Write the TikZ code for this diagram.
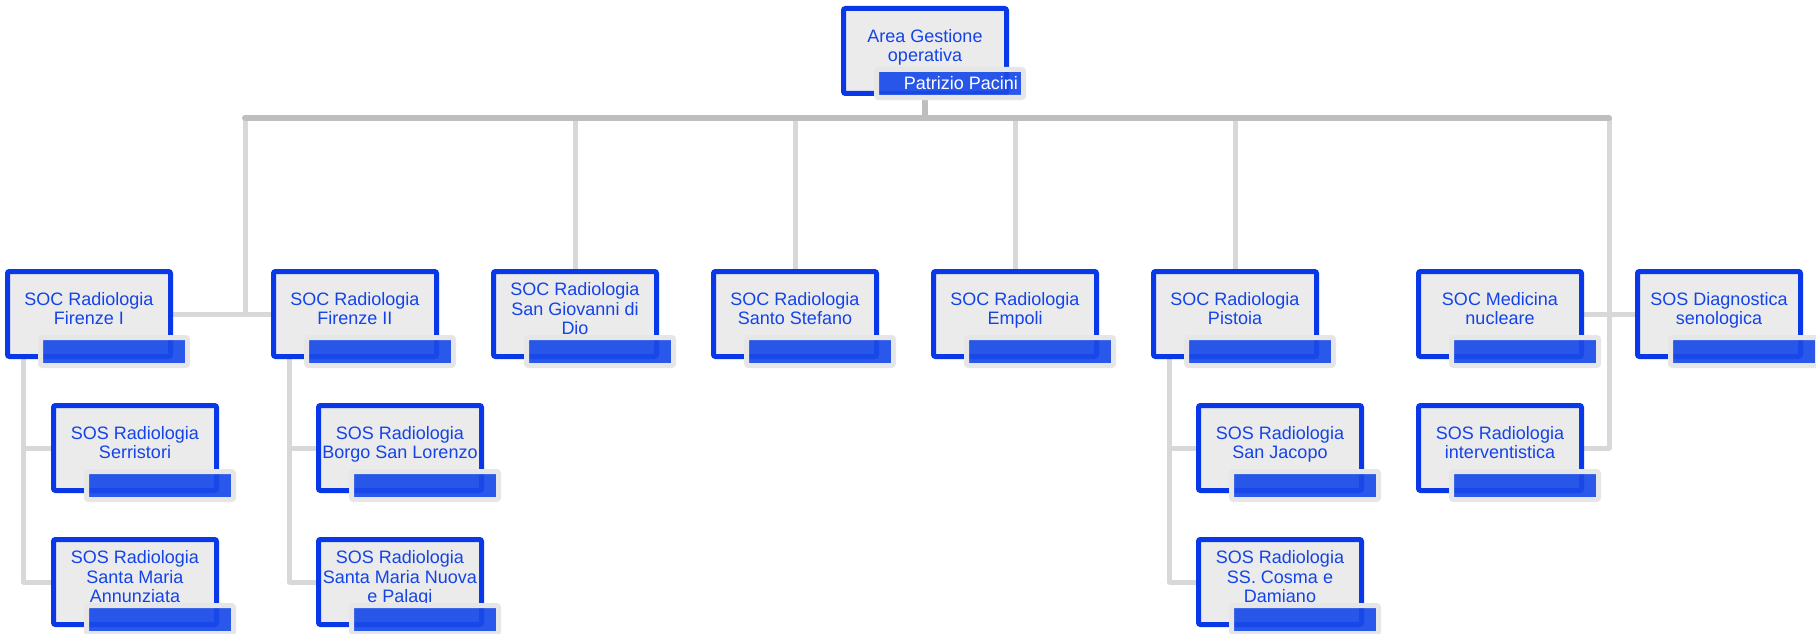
\documentclass[tikz,border=0pt]{standalone}
\usepackage{fontspec}
\setmainfont{Liberation Sans}
\usetikzlibrary{backgrounds}
\definecolor{bordblue}{HTML}{0838E8}
\definecolor{txtblue}{HTML}{1443E8}
\definecolor{barblue}{HTML}{1A4BE8}
\definecolor{boxfill}{HTML}{EBEBEB}
\definecolor{halogray}{HTML}{E6E6E6}
\definecolor{busgray}{HTML}{BEBEBE}
\definecolor{conngray}{HTML}{D8D8D8}
\tikzset{
  orgbox/.style={draw=bordblue, fill=boxfill, line width=5pt, rounded corners=2pt,
    minimum width=163pt, minimum height=85pt, inner sep=0pt, outer sep=0pt},
  orgtext/.style={text=txtblue, font=\fontsize{18}{19.5}\selectfont, align=center, inner sep=0pt, text depth=0pt},
  namebar/.style={fill=barblue, fill opacity=0.93, minimum width=142pt, minimum height=23pt,
    inner sep=0pt, outer sep=0pt, anchor=north east},
  halo/.style={draw=halogray, line width=5pt, rounded corners=2pt},
  busline/.style={draw=busgray, line width=6pt, line join=round, line cap=round},
  connline/.style={draw=conngray, line width=5pt, line join=round},
  nametext/.style={text=white, font=\fontsize{18}{19.5}\selectfont, inner sep=0pt, anchor=east},
}
\newcommand\orgunit[5][0]{%
  \node[orgbox] (#2) at (#3,#4) {};
  \node[orgtext] (#2-t) at ([yshift=-37pt]#2.north) {#5};
  \node[namebar] (#2-bar) at ([xshift=14.5pt,yshift=16.5pt+#1pt]#2.south east) {};
  \draw[halo] ([shift={(-2.5pt,2.5pt)}]#2-bar.north west) rectangle ([shift={(2.5pt,-2.5pt)}]#2-bar.south east);
}
\begin{document}
\begin{tikzpicture}[x=1pt,y=-1pt]
\useasboundingbox (0,0) rectangle (1816,634);
\orgunit[5]{top}{925}{51}{Area Gestione\\operativa}
\node[nametext] (top-name) at ([xshift=-3pt]top-bar.east) {Patrizio Pacini};
\orgunit{f1}{89}{314}{SOC Radiologia\\Firenze I}
\orgunit{f2}{355}{314}{SOC Radiologia\\Firenze II}
\orgunit{sg}{575}{314}{SOC Radiologia\\San Giovanni di\\Dio}
\orgunit{ss}{795}{314}{SOC Radiologia\\Santo Stefano}
\orgunit{em}{1015}{314}{SOC Radiologia\\Empoli}
\orgunit{pt}{1235}{314}{SOC Radiologia\\Pistoia}
\orgunit{mn}{1500}{314}{SOC Medicina\\nucleare}
\orgunit{ds}{1719}{314}{SOS Diagnostica\\senologica}
\orgunit{f1a}{135}{448}{SOS Radiologia\\Serristori}
\orgunit{f1b}{135}{582}{SOS Radiologia\\Santa Maria\\Annunziata}
\orgunit{f2a}{400}{448}{SOS Radiologia\\Borgo San Lorenzo}
\orgunit{f2b}{400}{582}{SOS Radiologia\\Santa Maria Nuova\\e Palagi}
\orgunit{pta}{1280}{448}{SOS Radiologia\\San Jacopo}
\orgunit{ptb}{1280}{582}{SOS Radiologia\\SS. Cosma e\\Damiano}
\orgunit{ri}{1500}{448}{SOS Radiologia\\interventistica}
\coordinate (busL) at (245,118);
\coordinate (busR) at (1609,118);
\begin{scope}[on background layer]
  \draw[connline] (busL) -- (busL |- f1.east);
  \draw[connline] (f1.east) -- (f2.west);
  \foreach \n in {sg,ss,em,pt} \draw[connline] (\n.north |- busL) -- (\n.north);
  \draw[connline] (busR) |- (ri.east);
  \draw[connline] (mn.east) -- (ds.west);
  \draw[connline] ([xshift=16pt]f1.south west) |- (f1b.west);
  \draw[connline] ([xshift=16pt]f1.south west |- f1a.west) -- (f1a.west);
  \draw[connline] ([xshift=16pt]f2.south west) |- (f2b.west);
  \draw[connline] ([xshift=16pt]f2.south west |- f2a.west) -- (f2a.west);
  \draw[connline] ([xshift=16pt]pt.south west) |- (ptb.west);
  \draw[connline] ([xshift=16pt]pt.south west |- pta.west) -- (pta.west);
  \draw[busline] (top.south) -- (top.south |- busL);
  \draw[busline] (busL) -- (busR);
\end{scope}
\end{tikzpicture}
\end{document}
